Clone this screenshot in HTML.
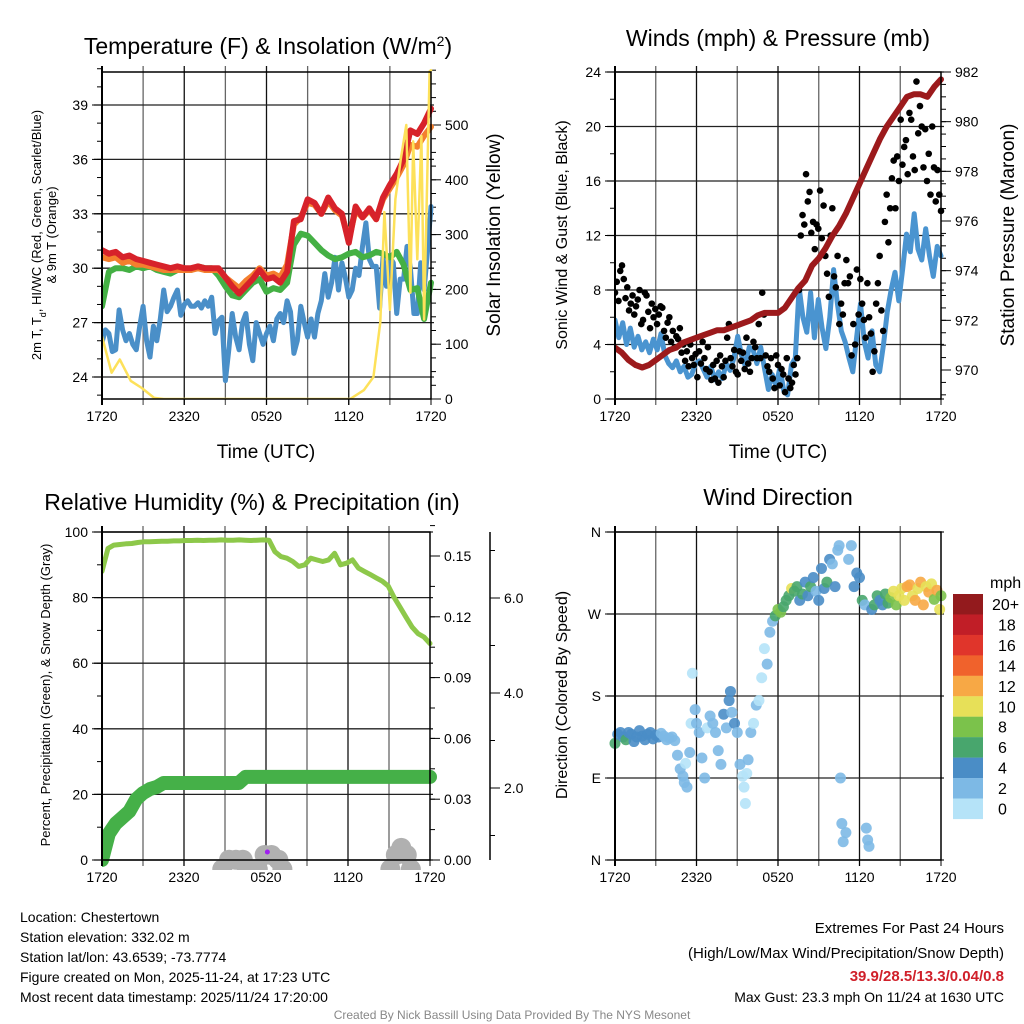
<!DOCTYPE html>
<html><head><meta charset="utf-8">
<style>
html,body{margin:0;padding:0;background:#fff;}
svg{display:block;font-family:"Liberation Sans",sans-serif;}
</style></head>
<body>
<svg id="fig" width="1024" height="1024" viewBox="0 0 1024 1024" xmlns="http://www.w3.org/2000/svg">
<rect width="1024" height="1024" fill="#fff"/>
<text x="268" y="54" font-size="23" text-anchor="middle">Temperature (F) &amp; Insolation (W/m<tspan baseline-shift="super" font-size="14">2</tspan>)</text>
<text x="778" y="46" font-size="23" text-anchor="middle">Winds (mph) &amp; Pressure (mb)</text>
<text x="252" y="510" font-size="23" text-anchor="middle">Relative Humidity (%) &amp; Precipitation (in)</text>
<text x="778" y="505" font-size="23" text-anchor="middle">Wind Direction</text>
<text x="266" y="458" font-size="19" text-anchor="middle">Time (UTC)</text>
<text x="778" y="458" font-size="19" text-anchor="middle">Time (UTC)</text>
<text transform="translate(41,235) rotate(-90)" font-size="13" text-anchor="middle">2m T, T<tspan baseline-shift="sub" font-size="9">d</tspan>, HI/WC (Red, Green, Scarlet/Blue)</text>
<text transform="translate(56,235) rotate(-90)" font-size="13" text-anchor="middle">&amp; 9m T (Orange)</text>
<text transform="translate(500,235) rotate(-90)" font-size="19" text-anchor="middle">Solar Insolation (Yellow)</text>
<text transform="translate(567,235) rotate(-90)" font-size="16" text-anchor="middle">Sonic Wind &amp; Gust (Blue, Black)</text>
<text transform="translate(1014,235) rotate(-90)" font-size="19" text-anchor="middle">Station Pressure (Maroon)</text>
<text transform="translate(50,695) rotate(-90)" font-size="13" text-anchor="middle">Percent, Precipitation (Green), &amp; Snow Depth (Gray)</text>
<text transform="translate(567,695) rotate(-90)" font-size="16" text-anchor="middle">Direction (Colored By Speed)</text>
<g font-size="14">
<text x="20" y="922">Location: Chestertown</text>
<text x="20" y="942">Station elevation: 332.02 m</text>
<text x="20" y="962">Station lat/lon: 43.6539; -73.7774</text>
<text x="20" y="982">Figure created on Mon, 2025-11-24, at 17:23 UTC</text>
<text x="20" y="1002">Most recent data timestamp: 2025/11/24 17:20:00</text>
</g>
<g font-size="15" text-anchor="end">
<text x="1004" y="933">Extremes For Past 24 Hours</text>
<text x="1004" y="958">(High/Low/Max Wind/Precipitation/Snow Depth)</text>
<text x="1004" y="981" fill="#d0202a" font-weight="bold">39.9/28.5/13.3/0.04/0.8</text>
<text x="1004" y="1002" font-size="14">Max Gust: 23.3 mph On 11/24 at 1630 UTC</text>
</g>
<text x="512" y="1019" font-size="12" fill="#888" text-anchor="middle">Created By Nick Bassill Using Data Provided By The NYS Mesonet</text>
<g id="layer"></g>
</svg>
<script>
// ---------- data ----------
const timeLabels = ["1720","2320","0520","1120","1720"];
const tempTicks = [24,27,30,33,36,39];
const solarTicks = [0,100,200,300,400,500];
const temp2m = [31.0,30.8,30.9,30.6,30.7,30.5,30.4,30.3,30.2,30.1,30.0,30.1,30.0,30.0,30.1,30.0,30.0,30.0,29.5,29.0,28.6,29.0,29.4,29.9,29.4,29.5,29.2,29.8,32.6,32.7,33.8,33.6,33.0,33.9,33.3,33.0,31.4,33.4,32.8,33.3,32.7,33.9,34.6,35.2,36.0,37.6,37.4,38.0,38.8];
const temp9m = [30.6,30.5,30.6,30.3,30.4,30.2,30.2,30.1,30.0,29.9,29.9,29.9,29.9,29.9,30.0,29.9,29.9,29.9,29.5,29.2,28.9,29.3,29.6,30.0,29.6,29.7,29.5,30.2,32.4,32.8,33.6,33.5,33.0,33.7,33.2,32.9,31.6,33.2,32.8,33.2,32.7,33.8,34.4,35.0,35.7,36.8,36.7,37.3,37.8];
const heatIndex = [27.9,29.8,30.0,30.0,29.9,30.1,30.0,30.1,29.9,29.8,29.7,29.9,30.0,29.9,30.1,30.0,30.0,29.6,29.0,28.5,28.4,28.8,29.2,29.4,28.7,28.9,28.8,29.2,31.3,31.9,31.8,31.4,31.0,30.7,30.5,30.6,30.8,30.9,30.6,30.7,30.9,30.8,30.6,30.9,30.2,28.8,28.9,27.2,29.2];
const dewPoint = [25.9,26.6,26.4,25.4, 25.5,27.7,26.6,26.0, 26.4,25.8,25.5,26.8, 27.9,26.0,25.1,26.8, 26.0,27.2,28.8,27.6, 27.9,28.4,28.8,27.4, 28.0,28.2,27.9,27.9, 28.1,27.8,28.2,27.9, 28.4,26.4,27.1,27.3, 23.8,25.5,27.5,26.2, 25.5,27.0,27.5,25.8, 24.9,27.0,26.4,25.8, 26.4,26.8,26.0,27.2, 27.5,27.0,28.2,27.6, 25.3,26.0,27.9,27.0, 26.2,27.2,26.2,27.5, 28.2,29.7,28.4,29.2, 30.6,28.8,30.3,29.5, 28.4,28.8,30.0,29.6, 31.2,32.5,30.5,30.1, 30.1,27.8,30.6,29.0, 30.6,30.3,27.5,29.4, 29.4,31.2,30.0,27.5, 27.5,30.3,28.8,31.0, 33.4];
const solarHours = [0,0.7,1.3,2.1,2.9,3.8,4.5,18.1,19.1,19.8,20.3,20.6,21.0,21.4,21.8,22.2,22.5,22.7,23.0,23.3,23.5,23.9,24.0];
const solarVals = [114,48,72,33,20,2,0,0,16,40,140,341,163,365,438,500,194,470,255,480,145,598,600];

const windTicks = [0,4,8,12,16,20,24];
const presTicks = [970,972,974,976,978,980,982];
const windSpeed = [5.8,4.5,5.6,4.0,5.2,3.8,4.6,3.6,4.2, 3.4,4.4,3.6,4.8,3.2,2.6,2.3, 2.8,2.0,2.4,1.6,1.8,2.6,2.8, 2.2,1.6,2.4,1.4,2.0,1.5,2.6, 2.1,3.0,4.6,3.2,2.4,3.8,3.6, 2.6,3.8,2.2,0.7,1.8,1.0,2.3, 0.6,0.3,2.5,3.0,8.2,6.0,4.9, 7.8,4.5,7.3,5.2,3.7,6.0,9.5, 7.0,5.0,4.2,3.0,2.0,4.5,7.0, 4.2,3.0,5.0,2.5,2.0,4.0,6.4, 8.0,9.3,7.2,9.5,12.1,10.8,13.6, 11.0,10.2,12.5,10.5,9.0,11.2,10.5];
const windGust = [7.8,8.6,7.2,9.4,9.8,8.8,7.4,8.2, 6.5,7.0,7.6,6.2,6.8,7.3,8.0,5.5, 5.8,7.8,7.6,6.4,5.2,7.0,6.0,6.6, 5.5,6.2,6.8,6.7,5.0,4.5,5.6,6.0, 4.2,5.0,3.8,4.6,4.4,5.2,3.4,4.0, 2.8,3.5,2.4,4.0,3.0,2.5,3.3,1.6, 3.5,2.6,4.2,3.0,2.2,3.8,2.0,1.4, 2.5,1.5,2.8,1.2,3.2,2.4,1.6,2.8, 4.5,5.5,3.0,2.4,3.6,2.0,1.8,3.5, 2.8,3.4,2.2,4.5,2.6,2.0,3.0,4.2, 3.8,3.0,5.5,3.0,7.8,6.2,3.2,2.4, 2.0,3.0,1.5,0.8,3.2,2.5,1.0,2.2, 1.8,0.5,3.0,1.5,0.8,1.2,2.5,1.8, 3.0,8.0,12.0,13.5,
 12.8,16.5,14.5,15.2,12.2,13.0,11.0,12.8, 12.5,15.3,11.8,14.2,10.5,9.2,7.5,12.0,14.0,9.0,8.2,10.5, 5.5,7.0,6.2,8.5,10.2,8.5,9.0,3.2,5.5,4.0,9.5,6.2,8.8,7.0,5.8,4.5, 8.5,6.0,4.8,2.0,3.5,7.0,8.5,10.5,6.5,5.0,13.0,15.0,11.5,14.0,16.2, 17.5,14.0,17.8,16.0,20.5,17.2,18.5,19.0,16.5,21.0,20.5,17.8,16.8, 23.3,19.5,21.5,20.0,17.0,19.8,16.0,18.0,15.0,20.0,17.0,14.5,16.8,15.0,13.8];
const pressure = [970.9,970.7,970.4,970.2,970.1,970.2,970.4,970.6,970.8,970.9,971.1,971.2,971.3,971.4,971.5,971.6,971.6,971.7,971.8,971.9,972.0,972.2,972.3,972.3,972.3,972.5,972.9,973.3,973.6,974.2,974.5,974.9,975.4,975.8,976.3,976.9,977.5,978.1,978.7,979.3,979.8,980.2,980.6,981.0,981.1,981.1,981.0,981.4,981.7];

const rhTicks = [0,20,40,60,80,100];
const precipTicks = [0.00,0.03,0.06,0.09,0.12,0.15];
const snowTicks = [2.0,4.0,6.0];
const relHum = [88,95,96,96.2,96.4,96.5,96.8,97,97,97.1,97.2,97.2,97.3,97.3,97.4,97.4,97.5,97.4,97.5,97.5,97.6,97.5,97.5,97.6,97.5,97.4,97.5,97.6,97.5,94,92.5,92,91,89.5,90,92,91.5,91,91.5,93.5,90,90.5,91.5,89,88,87,86,85,83.5,80,77,74,71,69,68,66];
const precip = [0,0.013,0.018,0.021,0.024,0.030,0.033,0.035,0.036,0.038,0.038,0.038,0.038,0.038,0.038,0.038,0.038,0.038,0.038,0.038,0.038,0.041,0.041,0.041,0.041,0.041,0.041,0.041,0.041,0.041,0.041,0.041,0.041,0.041,0.041,0.041,0.041,0.041,0.041,0.041,0.041,0.041,0.041,0.041,0.041,0.041,0.041,0.041,0.041];
const snowHours = [8.8,9.3,9.8,10.3,10.6,11.4,11.9,12.4,12.9,13.2,21.1,21.5,21.9,22.3,22.6];
const snowDepth = [0.5,0.7,0.7,0.7,0.5,0.5,0.8,0.8,0.7,0.5,0.5,0.8,0.95,0.8,0.5];

const dirLabels = ["N","E","S","W","N"];
const dirHours = [0.0,0.2,0.4,0.6,0.8,1.0,1.2,1.4,1.6,1.8,2.0,2.2,2.4,2.6,2.8,3.0,3.2,3.4,3.6,3.8,4.0,4.2,4.4,
 4.6,4.8,5.0,5.1,5.2,5.3,5.5,5.6,5.7,5.9,6.0,6.2,6.4,6.6,6.8,7.0,7.2,7.4,7.6,7.8,8.0,8.2,8.4,8.5,8.6,8.8,9.0,
 9.2,9.4,9.5,9.6,9.7,9.8,10.0,10.2,10.4,10.6,10.8,11.0,11.2,11.4,11.6,11.8,12.0,12.2,12.4,12.6,12.8,13.0,13.2,13.4,13.6,13.8,14.0,
 14.2,14.4,14.6,14.8,15.0,15.2,15.4,15.6,15.8,16.0,16.2,16.4,16.5,16.6,16.7,16.8,17.0,17.2,17.4,17.6,17.8,18.0,18.2,18.4,18.5,18.6,18.7,
 18.9,19.1,19.3,19.5,19.7,19.9,20.1,20.3,20.5,20.7,20.9,21.1,21.3,21.5,21.7,21.9,22.1,22.3,22.5,22.7,22.9,23.1,23.3,23.5,23.7,23.9,24.0];
const dirVals = [128,138,140,135,132,140,138,130,135,142,136,132,138,140,133,137,135,139,136,132,134,135,131,
 115,100,92,85,106,80,118,150,205,165,150,140,112,90,145,158,150,140,120,105,160,145,175,185,162,150,140,
 105,92,80,62,95,110,140,150,170,175,200,232,215,250,262,268,275,272,278,285,290,298,295,300,285,292,305,
 290,300,310,295,285,320,298,305,330,325,300,340,345,90,40,20,30,330,345,300,315,310,285,280,35,22,15,
 275,280,290,285,280,292,282,288,295,280,290,298,285,300,302,290,285,298,305,280,300,294,303,286,296,275,290];
const dirSpeeds = [6,5,4,4.5,6,4,5,4,4,4.5,4,4,4,5,4,4,4,3,3,3,3,3,2,
 2,2,2,2,1,2,3,1,1,2,3,3,2,2,1,3,2,2,2,3,4,2,4,4,3,4,3,
 2,1,0,0,1,2,2,0,2,1,0,0,2,3,2,6,8,8,7,6,6,10,7,6,4,6,4,
 4,6,4,3,4,4,4,6,4,2,4,2,2,2,2,2,2,2,2,4,4,4,6,3,2,2,2,
 4,6,6,5,4,7,6,8,10,9,10,11,10,12,13,10,12,11,13,12,10,12,10,9,12,10,9];
const speedBins = ["0","2","4","6","8","10","12","14","16","18","20+"];
const speedColors = ["#b5e3f8","#7db9e5","#4a8dc6","#48a66d","#7bc24b","#e7e058","#f7a845","#f0622c","#e0352b","#c11e27","#931a1d"];

// ---------- helpers ----------
const NS="http://www.w3.org/2000/svg";
const layer=document.getElementById('layer');
function el(tag,attrs,parent){const e=document.createElementNS(NS,tag);for(const k in attrs)e.setAttribute(k,attrs[k]);(parent||layer).appendChild(e);return e;}
function lin(d0,d1,r0,r1){return v=>r0+(v-d0)*(r1-r0)/(d1-d0);}
function idxHours(arr){return arr.map((_,i)=>i*24/(arr.length-1));}
function pathD(xs,ys){return xs.map((x,i)=>(i?'L':'M')+x.toFixed(1)+' '+ys[i].toFixed(1)).join(' ');}

function panelFrame(name,x0,x1,y0,y1,hLines){
  const g=el('g',{});
  
  
  const xs=lin(0,24,x0,x1);
  for(let h=3;h<24;h+=3){el('line',{x1:xs(h),x2:xs(h),y1:y0-6,y2:y1+6,stroke:(h%6?'#666':'#111'),'stroke-width':1.3},g);}
  hLines.forEach(y=>el('line',{x1:x0-8,x2:x1+3,y1:y,y2:y,stroke:'#222','stroke-width':1.3},g));
  const xt=el('g',{'font-size':14,'text-anchor':'middle'});
  
  
  timeLabels.forEach((t,i)=>{const h=i*6;el('line',{x1:xs(h),x2:xs(h),y1:y1,y2:y1+6,stroke:'#000'},xt);const tx=el('text',{x:xs(h),y:y1+22},xt);tx.textContent=t;});
  return xs;
}
function frameBox(name,x0,x1,y0,y1){
  const r=el('rect',{x:x0,y:y0,width:x1-x0,height:y1-y0,fill:'none',stroke:'#000','stroke-width':1.5});
  
  
  el('line',{x1:x0,x2:x0,y1:y0-6,y2:y1+6,stroke:'#000','stroke-width':2});
}
function yTicks(name,x,ticks,scale,side,fmt,minorStep,minorLo,minorHi){
  const g=el('g',{'font-size':14,'text-anchor':side<0?'end':'start'});
  
  
  ticks.forEach(v=>{const y=scale(v);el('line',{x1:x,x2:x+side*10,y1:y,y2:y,stroke:'#000'},g);const t=el('text',{x:x+side*14,y:y+5},g);t.textContent=fmt(v);});
  if(minorStep){const lo=minorLo!==undefined?minorLo:ticks[0],hi=minorHi!==undefined?minorHi:ticks[ticks.length-1];for(let v=lo;v<=hi+1e-9;v+=minorStep){el('line',{x1:x,x2:x+side*5,y1:scale(v),y2:scale(v),stroke:'#000'},g);}}
  return g;
}
function clip(id,x0,y0,x1,y1){const d=el('clipPath',{id:id});el('rect',{x:x0,y:y0,width:x1-x0,height:y1-y0},d);return 'url(#'+id+')';}

// ---------- Panel 1 ----------
{
  const X0=102,X1=431,Y0=72,Y1=399;
  const yT=lin(24,39,377,105), yS=lin(0,500,399,125);
  const xs=panelFrame('temp',X0,X1,Y0,Y1,tempTicks.map(yT));
  yTicks('temp-y-ticks',X0,tempTicks,yT,-1,v=>v,1,23,41);
  yTicks('solar-y-ticks',X1,solarTicks,yS,1,v=>v,25,0,600);
  const cp=clip('c1',X0,Y0-6,X1+4,Y1);
  const g=el('g',{'clip-path':cp,fill:'none','stroke-linejoin':'round','stroke-linecap':'round'});
  
  
  let p;
  p=el('path',{d:pathD(idxHours(dewPoint).map(xs),dewPoint.map(yT)),stroke:'#4a8fc8','stroke-width':5},g);
  
  p=el('path',{d:pathD(idxHours(heatIndex).map(xs),heatIndex.map(yT)),stroke:'#44b044','stroke-width':6},g);
  
  p=el('path',{d:pathD(idxHours(temp9m).map(xs),temp9m.map(yT)),stroke:'#f47f2e','stroke-width':6},g);
  
  p=el('path',{d:pathD(idxHours(temp2m).map(xs),temp2m.map(yT)),stroke:'#d7222a','stroke-width':6},g);
  
  p=el('path',{d:pathD(solarHours.map(xs),solarVals.map(yS)),stroke:'#fde15a','stroke-width':2.5},g);
  
  frameBox('temp',X0,X1,Y0,Y1);
}
// ---------- Panel 2 ----------
{
  const X0=615,X1=941,Y0=72,Y1=399;
  const yW=lin(0,24,399,72), yP=lin(970,982,370,72);
  const xs=panelFrame('wind',X0,X1,Y0,Y1,windTicks.map(yW));
  yTicks('wind-y-ticks',X0,windTicks,yW,-1,v=>v,2);
  yTicks('pressure-y-ticks',X1,presTicks,yP,1,v=>v,0.5,969,982);
  const cp=clip('c2',X0,Y0-6,X1+4,Y1);
  const g=el('g',{'clip-path':cp,fill:'none','stroke-linejoin':'round','stroke-linecap':'round'});
  
  
  let p=el('path',{d:pathD(idxHours(windSpeed).map(xs),windSpeed.map(yW)),stroke:'#4a94d0','stroke-width':5},g);
  
  const gh=idxHours(windGust);
  windGust.forEach((v,i)=>{const c=el('circle',{cx:xs(gh[i]),cy:yW(v),r:3.3,fill:'#000'},g);
    
    });
  p=el('path',{d:pathD(idxHours(pressure).map(xs),pressure.map(yP)),stroke:'#9c1a1c','stroke-width':6},g);
  
  frameBox('wind',X0,X1,Y0,Y1);
}
// ---------- Panel 3 ----------
{
  const X0=102,X1=430,Y0=532,Y1=860;
  const yR=lin(0,100,860,532), yPr=lin(0,0.15,860,556), ySn=lin(2,6,788,598);
  const xs=panelFrame('rh',X0,X1,Y0,Y1,rhTicks.map(yR));
  yTicks('rh-y-ticks',X0,rhTicks,yR,-1,v=>v,10);
  yTicks('precip-y-ticks',X1,precipTicks,yPr,1,v=>v.toFixed(2),0.015,0,0.165);
  el('line',{x1:490,x2:490,y1:532,y2:860,stroke:'#000','stroke-width':1.5});
  yTicks('snow-y-ticks',490,snowTicks,ySn,1,v=>v.toFixed(1),1,1,7);
  const cp=clip('c3',X0,Y0-6,X1+10,Y1+10);
  const g=el('g',{'clip-path':cp,fill:'none','stroke-linejoin':'round','stroke-linecap':'round'});
  
  
  snowHours.forEach((h,i)=>{const e=el('circle',{cx:xs(h),cy:ySn(snowDepth[i])+10,r:10,fill:'#b0b0b0'},g);
    
    });
  const pd=el('circle',{cx:xs(12.1),cy:852,r:2.5,fill:'#a020f0'},g);
  
  let p=el('path',{d:pathD(idxHours(relHum).map(xs),relHum.map(yR)),stroke:'#8dc84a','stroke-width':5},g);
  
  p=el('path',{d:pathD(idxHours(precip).map(xs),precip.map(yPr)),stroke:'#45b048','stroke-width':14},g);
  
  frameBox('rh',X0,X1,Y0,Y1);
}
// ---------- Panel 4 ----------
{
  const X0=615,X1=941,Y0=532,Y1=860;
  const yD=lin(0,360,860,532);
  const dirTicks=[0,90,180,270,360];
  const xs=panelFrame('dir',X0,X1,Y0,Y1,dirTicks.map(yD));
  yTicks('dir-y-ticks',X0,dirTicks,yD,-1,v=>dirLabels[dirTicks.indexOf(v)],0);
  const g=el('g',{});
  
  
  dirVals.forEach((d,i)=>{const b=Math.min(10,Math.floor(dirSpeeds[i]/2));
    const c=el('circle',{cx:xs(dirHours[i]),cy:yD(d),r:5.5,fill:speedColors[b],'fill-opacity':0.9},g);
    
    });
  frameBox('dir',X0,X1,Y0,Y1);
  const cb=el('g',{'font-size':16});
  
  
  const t0=el('text',{x:990,y:588},cb);t0.textContent='mph';
  
  
  const n=speedBins.length;
  for(let k=0;k<n;k++){const bin=n-1-k;const y=594+k*20.45;
    const r=el('rect',{x:953,y:y,width:30,height:20.6,fill:speedColors[bin]},cb);
    
    
    const t=el('text',{x:bin===10?992:998,y:y+16},cb);t.textContent=speedBins[bin];}
}
</script>
</body></html>
